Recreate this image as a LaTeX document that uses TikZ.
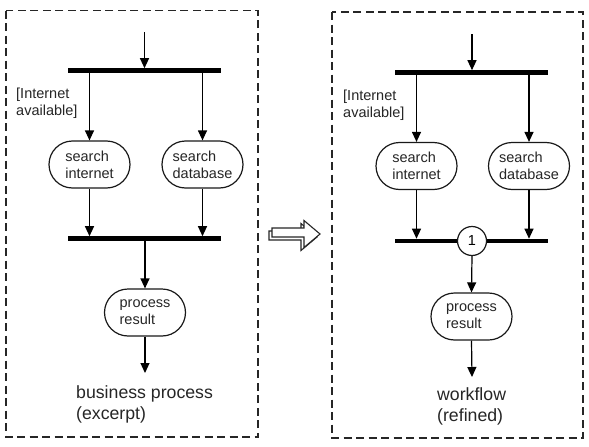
\documentclass[tikz,border=0pt]{standalone}
\usepackage{fontspec}
\setmainfont{Liberation Sans}
\usetikzlibrary{shapes.misc,arrows.meta}
\begin{document}
\begin{tikzpicture}[x=1pt,y=-1pt,
  frame/.style={draw=black!85, line width=1.3pt, dash pattern=on 8pt off 4.5pt},
  act/.style={rounded rectangle, draw=black!90, line width=1.2pt, minimum width=81pt, minimum height=47pt, inner sep=0pt, align=left, font=\fontsize{14.5}{16.7}\selectfont, text=black!85},
  bar/.style={rectangle, fill=black, minimum width=153pt, minimum height=4.2pt, inner sep=0pt},
  arr/.style={line width=1.2pt, -{Triangle[length=10pt,width=9pt]}},
  lbl/.style={align=left, inner sep=0pt, font=\fontsize{14.5}{16.9}\selectfont, text=black!85},
  captxt/.style={align=left, inner sep=0pt, font=\fontsize{17.7}{21}\selectfont, text=black!85},
  num/.style={circle, draw=black!90, line width=1.2pt, fill=white, minimum size=29pt, inner sep=0pt, font=\fontsize{14.5}{16.7}\selectfont}]
\useasboundingbox (0,0) rectangle (589,447);
\fill[white] (0,0) rectangle (589,447);
% frames
\draw[frame] (6,10.5) rectangle (258,437);
\draw[frame] (332,12) rectangle (583,438);

% ---------- left diagram ----------
\coordinate (inL) at (144.5,32);
\node[bar] (b1L) at (144.5,70.5) {};
\node[act] (siL) at (89.5,164.5) {search\\internet};
\node[act] (sdL) at (202.5,164.5) {search\\database};
\node[bar] (b2L) at (144.5,238.5) {};
\node[act] (prL) at (145,312.5) {process\\result};
\coordinate (outL) at (145,373);
\node[lbl, anchor=north west] (gL) at (16,88) {[Internet\\available]};
\node[captxt, anchor=north west] (tL) at (76,385) {business process\\(excerpt)};

\draw[arr] (inL) -- (inL |- b1L.north);
\draw[arr] (siL |- b1L.south) -- (siL.north);
\draw[arr] (sdL |- b1L.south) -- (sdL.north);
\draw[arr] (siL.south) -- (siL |- b2L.north);
\draw[arr] (sdL.south) -- (sdL |- b2L.north);
\draw[arr] (prL |- b2L.south) -- (prL.north);
\draw[arr] (prL.south) -- (outL);

% ---------- refinement arrow ----------
\begin{scope}[line width=1.1pt, draw=black!85]
\draw[fill=white] (269,240) -- (301,240) -- (301,250.5) -- (317,237) -- (301,223.5) -- (301,231) -- (269,231) -- cycle;
\draw[fill=white] (272,237) -- (304,237) -- (304,247.5) -- (320,234) -- (304,220.5) -- (304,228) -- (272,228) -- cycle;
\end{scope}

% ---------- right diagram ----------
\coordinate (inR) at (472,34);
\node[bar] (b1R) at (471.5,72.5) {};
\node[act] (siR) at (416.5,166) {search\\internet};
\node[act] (sdR) at (529,166) {search\\database};
\node[bar] (b2R) at (471.5,241) {};
\node[num] (cR) at (472,241) {1};
\node[act] (prR) at (471.5,316.5) {process\\result};
\coordinate (outR) at (472,377);
\node[lbl, anchor=north west] (gR) at (343,90) {[Internet\\available]};
\node[captxt, anchor=north west] (tR) at (437,387) {workflow\\(refined)};

\draw[arr] (inR) -- (inR |- b1R.north);
\draw[arr] (siR |- b1R.south) -- (siR.north);
\draw[arr] (sdR |- b1R.south) -- (sdR.north);
\draw[arr] (siR.south) -- (siR |- b2R.north);
\draw[arr] (sdR.south) -- (sdR |- b2R.north);
\draw[arr] (cR.south) -- (prR.north);
\draw[arr] (prR.south) -- (outR);
\end{tikzpicture}
\end{document}
